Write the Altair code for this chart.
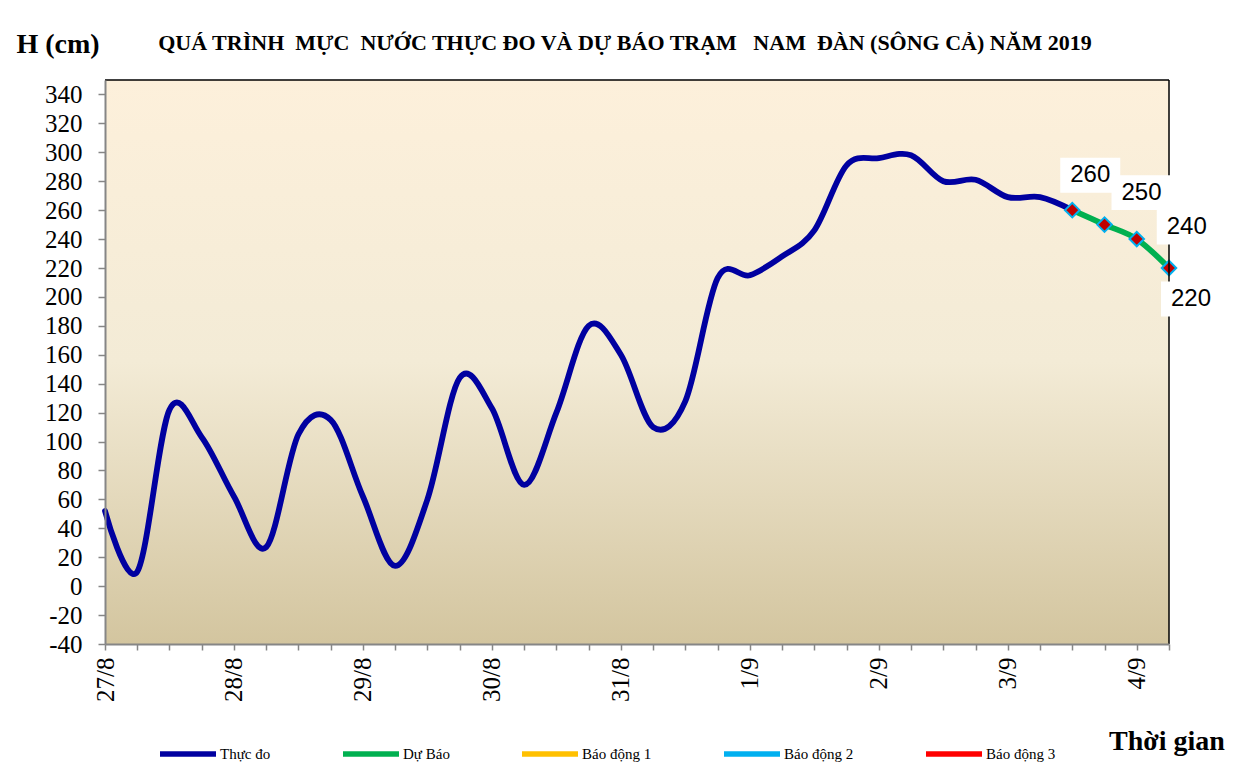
import json
import altair as alt
import pandas as pd

# ---------------- data ----------------
day_labels = ["27/8", "28/8", "29/8", "30/8", "31/8", "1/9", "2/9", "3/9", "4/9"]
steps_per_day = 4  # 6-hourly values
observed = [52, 10, 122, 103, 62, 27, 105, 115, 62, 14,
            60, 144, 123, 70, 120, 180, 160, 110, 128, 213,
            215, 228, 246, 291, 296, 298, 280, 281, 269, 269, 260]
forecast = [260, 250, 240, 220]
forecast_start = 30
series_names = ["Thực đo", "Dự Báo", "Báo động 1", "Báo động 2", "Báo động 3"]
series_colors = ["#0000A0", "#00B050", "#FFC000", "#00B0F0", "#FF0000"]
y_ticks = list(range(-40, 341, 20))
title_text = "QUÁ TRÌNH\u00a0 MỰC\u00a0 NƯỚC THỰC ĐO VÀ DỰ BÁO TRẠM\u00a0\u00a0 NAM\u00a0 ĐÀN (SÔNG CẢ) NĂM 2019"
y_title = "H (cm)"
x_title = "Thời gian"

obs_df = pd.DataFrame({"k": list(range(len(observed))), "h": observed, "series": series_names[0]})
fc_df = pd.DataFrame({"k": list(range(forecast_start, forecast_start + len(forecast))),
                      "h": forecast, "series": series_names[1]})
n_steps = forecast_start + len(forecast) - 1

# ---------------- layout ----------------
W, H = 1064, 564
SERIF = "Liberation Serif"
SANS = "Liberation Sans"
GREY = "#868686"

label_expr = f"datum.value % {steps_per_day} == 0 ? {json.dumps(day_labels)}[datum.value / {steps_per_day}] : ''"

x_enc = alt.X("k:Q",
              scale=alt.Scale(domain=[0, n_steps], nice=False, zero=False),
              axis=alt.Axis(values=list(range(n_steps + 1)), labelExpr=label_expr, labelAngle=270,
                            title=None, grid=False, tickColor=GREY, domainColor=GREY, tickSize=6,
                            tickWidth=1.5, domainWidth=2, labelFont=SERIF, labelFontSize=25,
                            labelColor="black", labelPadding=7, labelOverlap=False, labelBound=False,
                            labelFlush=False, zindex=1))
y_enc = alt.Y("h:Q",
              scale=alt.Scale(domain=[-40, 350], nice=False, zero=False),
              axis=alt.Axis(values=y_ticks, labelExpr="'' + datum.value", title=None, grid=False,
                            tickColor=GREY, domainColor=GREY,
                            tickSize=7, tickWidth=1.5, domainWidth=2, labelFont=SERIF, labelFontSize=25,
                            labelColor="black", labelPadding=16, labelOverlap=False, labelBound=False,
                            labelFlush=False, zindex=1))
color_enc = alt.Color("series:N",
                      scale=alt.Scale(domain=series_names, range=series_colors),
                      legend=alt.Legend(orient="none", legendX=52, legendY=643, direction="horizontal",
                                        columns=5, title=None, symbolType="stroke", symbolSize=3136,
                                        symbolStrokeWidth=5.5, labelFont=SERIF, labelFontSize=15,
                                        labelColor="black", columnPadding=61, labelOffset=1,
                                        labelLimit=200))

one = pd.DataFrame({"a": [0]})

bg = alt.Chart(one).mark_rect(
    color=alt.Gradient(gradient="linear",
                       stops=[alt.GradientStop(color="#FDF0DB", offset=0),
                              alt.GradientStop(color="#F3EBD6", offset=0.5),
                              alt.GradientStop(color="#D3C59F", offset=1)],
                       x1=0, x2=0, y1=0, y2=1)
).encode(x=alt.value(0), x2=alt.value(W), y=alt.value(0), y2=alt.value(H))

top_rule = alt.Chart(one).mark_rule(color="black", strokeWidth=1.5).encode(
    x=alt.value(0), x2=alt.value(W), y=alt.value(0))
right_rule = alt.Chart(one).mark_rule(color="black", strokeWidth=1.5).encode(
    x=alt.value(W), y=alt.value(0), y2=alt.value(H))

obs_line = alt.Chart(obs_df).mark_line(strokeWidth=5.8, interpolate="cardinal", strokeCap="round",
                                       strokeJoin="round").encode(x=x_enc, y=y_enc, color=color_enc)
fc_line = alt.Chart(fc_df).mark_line(strokeWidth=5.8, interpolate="cardinal", strokeCap="round",
                                     strokeJoin="round").encode(x=x_enc, y=y_enc, color=color_enc)
markers = alt.Chart(fc_df).mark_point(shape="diamond", filled=True, fill="#C00000", stroke="#00B0F0",
                                      strokeWidth=2, size=210, opacity=1).encode(x=x_enc, y=y_enc)

label_offsets = [(18, -35), (37, -32), (50, -12), (22, 31)]
box_path = "M-1,-0.583L1,-0.583L1,0.583L-1,0.583Z"
label_layers = []
for i, (dx, dy) in enumerate(label_offsets):
    d = fc_df.iloc[[i]]
    label_layers.append(
        alt.Chart(d).mark_point(shape=box_path, size=3600, filled=True, color="white", opacity=1,
                                strokeWidth=0, xOffset=dx, yOffset=dy).encode(x=x_enc, y=y_enc))
    label_layers.append(
        alt.Chart(d).mark_text(dx=dx, dy=dy, font=SANS, fontSize=24, color="black",
                               align="center", baseline="middle").encode(x=x_enc, y=y_enc, text="h:Q"))

title = alt.Chart(pd.DataFrame({"t": [title_text]})).mark_text(
    font=SERIF, fontSize=22, fontWeight="bold", color="black", align="center", baseline="middle"
).encode(text="t:N", x=alt.value(520), y=alt.value(-37))
ytitle = alt.Chart(pd.DataFrame({"t": [y_title]})).mark_text(
    font=SERIF, fontSize=28, fontWeight="bold", color="black", align="center", baseline="middle"
).encode(text="t:N", x=alt.value(-47), y=alt.value(-35))
xtitle = alt.Chart(pd.DataFrame({"t": [x_title]})).mark_text(
    font=SERIF, fontSize=28, fontWeight="bold", color="black", align="center", baseline="middle"
).encode(text="t:N", x=alt.value(1062), y=alt.value(662))

chart = alt.layer(
    bg, obs_line, fc_line, markers, top_rule, right_rule, *label_layers, title, ytitle, xtitle
).properties(
    width=W, height=H,
    autosize=alt.AutoSizeParams(type="none"),
    padding={"left": 97, "top": 72, "right": 74, "bottom": 131},
    background="white",
).configure_view(stroke=None)

chart.save("out.html", embed_options={"renderer": "svg", "actions": False})
